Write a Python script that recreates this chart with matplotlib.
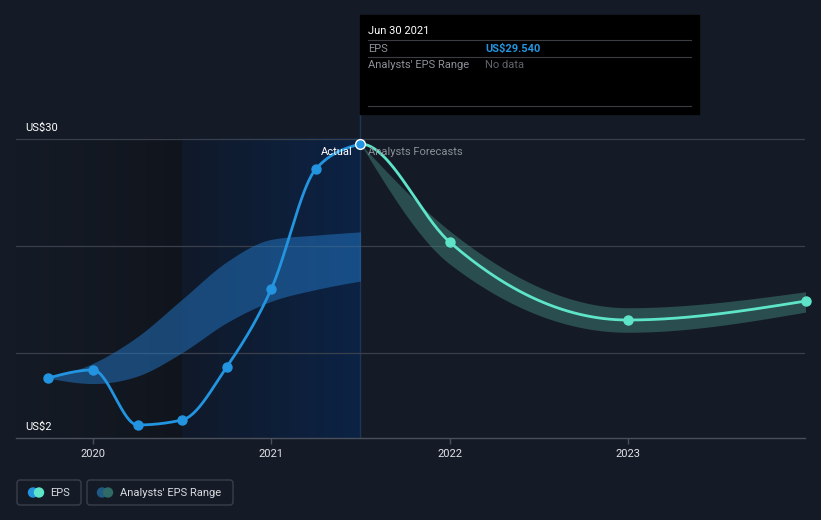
import numpy as np
import matplotlib
matplotlib.use("Agg")
import matplotlib.pyplot as plt
from matplotlib.patches import FancyBboxPatch, Circle, Rectangle

plt.rcParams['font.family'] = ['Roboto', 'DejaVu Sans']

# ---- data ----
actual_t = [2019.75, 2020.0, 2020.25, 2020.5, 2020.75, 2021.0, 2021.25, 2021.5]
actual_eps = [7.62, 8.37, 3.22, 3.69, 8.65, 15.96, 27.19, 29.54]

past_range_upper = [7.6, 9.0, 11.5, 15.0, 18.5, 20.6, 21.0, 21.3]
past_range_lower = [7.6, 7.1, 7.8, 10.0, 12.8, 14.8, 15.9, 16.7]

fc_t = [2021.5, 2022.0, 2023.0, 2024.0]
fc_eps = [29.54, 20.36, 13.05, 14.83]
fc_upper = [29.54, 21.4, 14.2, 15.7]
fc_lower = [29.54, 18.3, 11.9, 13.8]

year_ticks = [2020, 2021, 2022, 2023]
y_labels = {30: "US$30", 2: "US$2"}
grid_vals = [10, 20, 30]

BG = '#151b26'
BLUE = '#2394df'
TEAL = '#5ee5c9'


def monotone(x, y, n=60, t_start=None):
    x = np.asarray(x, float); y = np.asarray(y, float)
    m = len(x)
    h = np.diff(x); s = np.diff(y) / h
    t = np.zeros(m)
    for i in range(1, m - 1):
        h0, h1, s0, s1 = h[i - 1], h[i], s[i - 1], s[i]
        p = (s0 * h1 + s1 * h0) / (h0 + h1)
        t[i] = (np.sign(s0) + np.sign(s1)) * min(abs(s0), abs(s1), 0.5 * abs(p))
    if m > 2:
        t[0] = (3 * s[0] - t[1]) / 2
        t[-1] = (3 * s[-1] - t[-2]) / 2
    else:
        t[0] = t[-1] = s[0]
    if t_start is not None:
        t[0] = t_start
    xs, ys = [], []
    for i in range(m - 1):
        u = np.linspace(0, 1, n)
        hh = h[i]
        h00 = 2 * u**3 - 3 * u**2 + 1
        h10 = u**3 - 2 * u**2 + u
        h01 = -2 * u**3 + 3 * u**2
        h11 = u**3 - u**2
        xs.append(x[i] + u * hh)
        ys.append(h00 * y[i] + h10 * hh * t[i] + h01 * y[i + 1] + h11 * hh * t[i + 1])
    return np.concatenate(xs), np.concatenate(ys)


W, H = 821, 520
fig = plt.figure(figsize=(W / 100, H / 100), dpi=100)
fig.patch.set_facecolor(BG)

PXY = 178.3
ax = fig.add_axes([16 / W, (H - 438) / H, (805 - 16) / W, 438 / H])
ax.set_facecolor(BG)
x0 = 2020 - 77 / PXY
x1 = x0 + 789 / PXY
ytop = 30 + 139 / 10.68

# background regions (below the US$30 line)
def hgrad(xa, xb, ca, cb, z):
    g = np.linspace(0, 1, 1024)
    ca = np.array(ca) / 255; cb = np.array(cb) / 255
    img = (ca[None, :] * (1 - g[:, None]) + cb[None, :] * g[:, None])[None, :, :]
    ax.imshow(img, extent=[xa, xb, 2, 30], aspect='auto', zorder=z, interpolation='nearest')

hgrad(x0, 2020.5, (0x15, 0x1b, 0x26), (0x10, 0x15, 0x1d), 0.4)
hgrad(2020.5, 2021.5, (0x10, 0x19, 0x29), (0x0c, 0x23, 0x45), 0.5)
ax.set_xlim(x0, x1)
ax.set_ylim(2, ytop)
ax.plot([2021.5, 2021.5], [2, 30 + 25 / 10.68], color='#1c3558', lw=1.0, zorder=1)

# gridlines
for g in grid_vals:
    ax.axhline(g, color='#3a404b', lw=0.9, zorder=1)

# past analyst range
bx, bu = monotone(actual_t, past_range_upper)
_, bl = monotone(actual_t, past_range_lower)
ax.fill_between(bx, bl, bu, color='#2378c8', alpha=0.5, lw=0, zorder=2)

# forecast range
fx, fu = monotone(fc_t, fc_upper)
_, fl = monotone(fc_t, fc_lower)
ax.fill_between(fx, fl, fu, color='#3f7f78', alpha=0.5, lw=0, zorder=2)

# lines
ax_x, ax_y = monotone(actual_t, actual_eps)
ax.plot(ax_x, ax_y, color=BLUE, lw=2.0, zorder=3, solid_capstyle='round')
ax.plot(actual_t[:-1], actual_eps[:-1], 'o', color=BLUE, ms=6.5, zorder=4)
fx2, fy2 = monotone(fc_t, fc_eps, t_start=0.0)
ax.plot(fx2, fy2, color=TEAL, lw=2.0, zorder=3, solid_capstyle='round')
ax.plot(fc_t[1:], fc_eps[1:], 'o', color=TEAL, ms=6.5, zorder=4, clip_on=False)
ax.plot([actual_t[-1]], [actual_eps[-1]], 'o', color=BLUE, ms=7, mec='white', mew=1.0, zorder=5)

ax.text(2021.5 - 8 / PXY, 28.8, "Actual", color='white', fontsize=8, ha='right', va='center', zorder=6)
ax.text(2021.5 + 8 / PXY, 28.8, "Analysts Forecasts", color='#8a8f97', fontsize=8, ha='left', va='center', zorder=6)

# y labels
for v, lab in y_labels.items():
    ax.text(x0 + 9 / PXY, v + 1.0, lab, color='white', fontsize=8, ha='left', va='center', zorder=6)

# axes styling
for sp in ['top', 'right', 'left']:
    ax.spines[sp].set_visible(False)
ax.spines['bottom'].set_color('#4a505b')
ax.spines['bottom'].set_linewidth(1.0)
ax.set_yticks([])
ax.set_xticks(year_ticks)
ax.set_xticklabels([str(y) for y in year_ticks])
ax.tick_params(axis='x', colors='#4a505b', length=4, width=1, labelcolor='#e0e3e8', labelsize=8, pad=4)

# overlay for tooltip and legend in pixel coords
ov = fig.add_axes([0, 0, 1, 1], zorder=10)
ov.set_xlim(0, W); ov.set_ylim(H, 0)
ov.axis('off')
ov.patch.set_alpha(0)

ov.add_patch(Rectangle((360, 15), 339, 99, color='black', zorder=1))
for yy in [40, 57, 106]:
    ov.plot([368, 691], [yy, yy], color='#3a3d42', lw=0.8, zorder=2)
ov.text(368, 31, "Jun 30 2021", color='white', fontsize=8, va='center', ha='left', zorder=3)
ov.text(368, 48.5, "EPS", color='#8d9199', fontsize=8, va='center', ha='left', zorder=3)
ov.text(485, 48.5, "US$29.540", color=BLUE, fontsize=8, va='center', ha='left', zorder=3, fontweight='bold')
ov.text(368, 65.5, "Analysts' EPS Range", color='#8d9199', fontsize=8, va='center', ha='left', zorder=3)
ov.text(485, 65.5, "No data", color='#5f636a', fontsize=8, va='center', ha='left', zorder=3)

# legend
ov.add_patch(FancyBboxPatch((17, 480), 64, 25, boxstyle="round,pad=0,rounding_size=3",
                            fc='none', ec='#3a404b', lw=1.0))
ov.add_patch(FancyBboxPatch((87, 480), 146, 25, boxstyle="round,pad=0,rounding_size=3",
                            fc='none', ec='#3a404b', lw=1.0))
ov.add_patch(Circle((33, 492.5), 4.5, color=BLUE, zorder=2))
ov.add_patch(Circle((39, 492.5), 4.5, color=TEAL, zorder=3))
ov.add_patch(Circle((102, 492.5), 4.5, color='#1f5a85', zorder=2))
ov.add_patch(Circle((108, 492.5), 4.5, color='#2f6a66', zorder=3))
ov.text(50, 493, "EPS", color='#d8dbe0', fontsize=8, va='center', ha='left')
ov.text(120, 493, "Analysts' EPS Range", color='#d8dbe0', fontsize=8, va='center', ha='left')

fig.savefig("out.png", dpi=100, facecolor=BG)
